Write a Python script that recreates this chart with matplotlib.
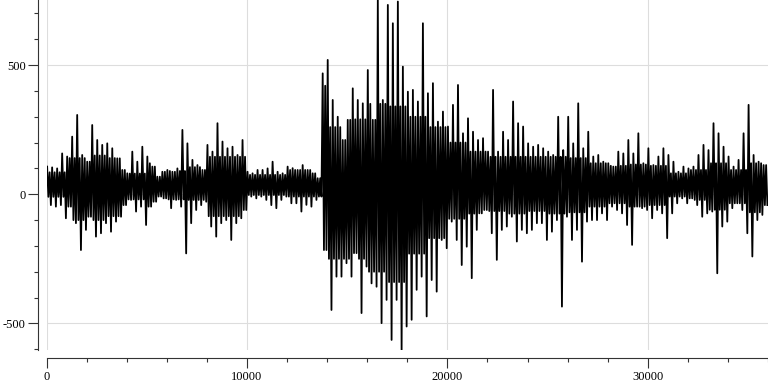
import matplotlib
matplotlib.use("Agg")
import matplotlib.pyplot as plt
from matplotlib.ticker import FixedLocator, NullFormatter


# envelope, one pair per 250-sample bin (0 .. 36000)
BIN_WIDTH = 250

peak_hi = [107, 104, 100, 158, 146, 223, 307, 152, 126, 268,
           210, 191, 197, 178, 139, 94, 81, 165, 126, 184,
           146, 107, 68, 87, 94, 87, 100, 249, 197, 133,
           113, 94, 191, 165, 275, 204, 178, 184, 152, 210,
           87, 81, 94, 94, 100, 126, 87, 81, 107, 101,
           94, 113, 94, 81, 62, 468, 520, 365, 300, 210,
           288, 410, 365, 352, 481, 288, 752, 365, 733, 662,
           746, 494, 397, 404, 359, 662, 391, 430, 281, 320,
           262, 346, 423, 236, 294, 242, 210, 217, 165, 404,
           165, 242, 210, 359, 275, 262, 197, 184, 191, 178,
           165, 152, 300, 171, 300, 197, 352, 178, 242, 146,
           152, 126, 120, 107, 165, 158, 210, 158, 236, 120,
           178, 113, 146, 178, 152, 126, 87, 107, 100, 107,
           152, 191, 171, 275, 236, 184, 146, 107, 133, 236,
           346, 152, 126, 113]

peak_lo = [-42, -48, -42, -93, -48, -112, -216, -138, -87, -164,
           -151, -112, -145, -106, -87, -42, -22, -67, -48, -119,
           -48, -29, -9, -16, -54, -22, -48, -229, -112, -61,
           -42, -29, -125, -164, -112, -100, -177, -112, -93, -61,
           -9, -16, -9, -22, -42, -54, -22, -9, -35, -35,
           -67, -41, -48, -22, -9, -216, -448, -319, -319, -267,
           -319, -228, -460, -280, -345, -358, -499, -409, -564, -409,
           -603, -512, -486, -370, -319, -473, -332, -377, -177, -209,
           -106, -177, -274, -203, -325, -138, -74, -61, -151, -254,
           -138, -125, -87, -183, -138, -151, -138, -112, -112, -177,
           -145, -100, -435, -87, -177, -138, -261, -106, -100, -100,
           -74, -100, -48, -61, -74, -119, -196, -48, -54, -61,
           -93, -61, -74, -170, -74, -35, -16, -35, -16, -42,
           -87, -74, -67, -306, -125, -106, -54, -35, -61, -151,
           -241, -100, -80, -42]

# solid black core of the trace, one pair per 1000 samples
CORE_WIDTH = 1000
core_hi = [85, 140, 150, 140, 80, 120, 90, 105, 145, 145,
           75, 75, 94, 420, 260, 290, 350, 340, 300, 260,
           200, 165, 145, 145, 145, 145, 140, 120, 110, 115,
           110, 81, 94, 120, 94, 120]
core_lo = [-10, -100, -100, -85, -20, -60, -20, -22, -85, -85,
           -3, -3, -9, -300, -250, -250, -300, -340, -230, -170,
           -95, -75, -65, -75, -65, -75, -70, -48, -35, -48,
           -42, -9, -22, -60, -35, -70]
quiet_hi, quiet_lo = 94, -9   # before the first arrival
ONSET = 13800

x_major = [0, 10000, 20000, 30000]
x_minor = list(range(0, 36001, 2000))
y_major = [-500, 0, 500]
y_minor = list(range(-600, 701, 100))


# trace: peak, core low, core high, trough inside every bin
xs, ys = [], []
for k in range(len(peak_hi)):
    x0 = k*BIN_WIDTH
    c = x0 // CORE_WIDTH
    if x0 + BIN_WIDTH <= ONSET and c == ONSET // CORE_WIDTH:
        top, bot = quiet_hi, quiet_lo
    else:
        top, bot = core_hi[c], core_lo[c]
    chi = min(top, peak_hi[k])
    clo = max(bot, peak_lo[k])
    xs += [x0 + BIN_WIDTH*f for f in (0.125, 0.375, 0.625, 0.875)]
    ys += [peak_hi[k], clo, chi, peak_lo[k]]

plt.rcParams['font.family'] = ['Liberation Serif', 'DejaVu Serif']
plt.rcParams['axes.unicode_minus'] = False

W, H = 768, 384
fig = plt.figure(figsize=(W/100, H/100), dpi=100)
ax = fig.add_axes([46.5/W, (H-350)/H, (W-46.5)/W, 350/H])

ax.plot(xs, ys, color='black', lw=1.3, solid_joinstyle='round', zorder=3)

ax.set_xlim(0, 36000)
ax.set_ylim(min(peak_lo), max(peak_hi))

ax.xaxis.set_major_locator(FixedLocator(x_major))
ax.xaxis.set_minor_locator(FixedLocator(x_minor))
ax.yaxis.set_major_locator(FixedLocator(y_major))
ax.yaxis.set_minor_locator(FixedLocator(y_minor))
ax.xaxis.set_minor_formatter(NullFormatter())
ax.yaxis.set_minor_formatter(NullFormatter())

ax.grid(True, which='major', color='#dddddd', lw=0.8, zorder=0)

for s in ['top', 'right']:
    ax.spines[s].set_visible(False)
ax.spines['left'].set_position(('outward', 6))
ax.spines['bottom'].set_position(('outward', 6))
for s in ['left', 'bottom']:
    ax.spines[s].set_color('#333333')
    ax.spines[s].set_linewidth(0.8)

ax.tick_params(which='major', length=7, width=0.8, color='#333333', labelsize=9, pad=2)
ax.tick_params(which='minor', length=3, width=0.8, color='#333333')

fig.savefig('out.png', dpi=100)
